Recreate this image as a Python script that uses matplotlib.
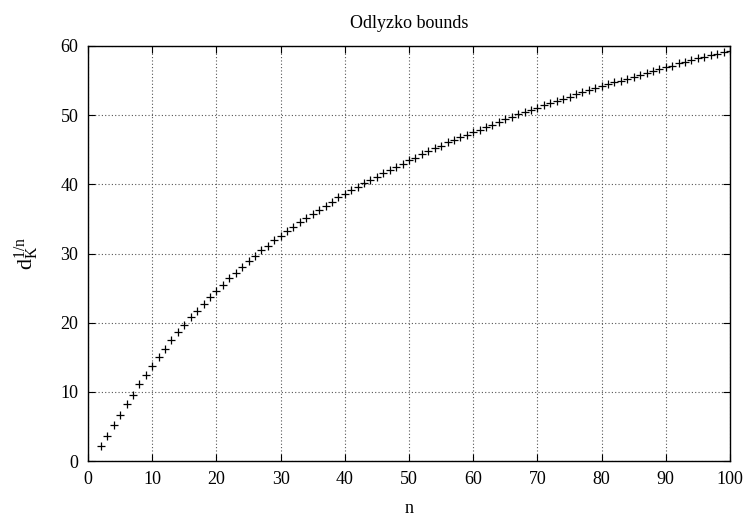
import matplotlib
matplotlib.use("Agg")
import matplotlib.pyplot as plt
import numpy as np

# discriminant root bound d_K^(1/n) for each degree n
n = list(range(2, 101))
bound = [
    2.2, 3.66, 5.15, 6.65, 8.2, 9.6, 11.1, 12.4, 13.8,                 # 2-10
    15.0, 16.2, 17.5, 18.6, 19.7, 20.8, 21.7, 22.75, 23.75, 24.6,      # 11-20
    25.5, 26.45, 27.2, 28.0, 28.9, 29.7, 30.5, 31.15, 31.9, 32.6,      # 21-30
    33.25, 33.9, 34.55, 35.1, 35.7, 36.3, 36.9, 37.45, 38.1, 38.65,    # 31-40
    39.2, 39.65, 40.15, 40.6, 41.1, 41.6, 42.1, 42.55, 43.0, 43.45,    # 41-50
    43.85, 44.35, 44.75, 45.2, 45.6, 46.05, 46.4, 46.8, 47.2, 47.56,   # 51-60
    47.9, 48.3, 48.65, 49.0, 49.4, 49.7, 50.1, 50.4, 50.75, 51.1,      # 61-70
    51.4, 51.7, 52.0, 52.35, 52.67, 53.0, 53.3, 53.6, 53.9, 54.17,     # 71-80
    54.46, 54.75, 55.0, 55.3, 55.57, 55.86, 56.1, 56.4, 56.62, 56.9,   # 81-90
    57.15, 57.5, 57.7, 57.97, 58.2, 58.42, 58.65, 58.9, 59.1, 59.3,    # 91-100
]

plt.rcParams['font.family'] = ['Liberation Serif', 'DejaVu Serif']
plt.rcParams['mathtext.fontset'] = 'custom'
plt.rcParams['mathtext.rm'] = 'Liberation Serif'
plt.rcParams['mathtext.it'] = 'Liberation Serif'

fig = plt.figure(figsize=(7.44, 5.16), dpi=100)
ax = fig.add_axes([88 / 744, 1 - 461 / 516, 642 / 744, 415 / 516])

ax.plot(n, bound, '+', color='black', markersize=6, markeredgewidth=0.9)

ax.set_xlim(0, 100)
ax.set_ylim(0, 60)
ax.set_xticks(np.arange(0, 101, 10))
ax.set_yticks(np.arange(0, 61, 10))
ax.tick_params(direction='in', top=True, right=True, length=5, width=0.8,
               labelsize=13, pad=7, colors='black')
ax.grid(True, linestyle=(0, (1, 2)), color='#555555', linewidth=0.8)
for s in ax.spines.values():
    s.set_linewidth(1.0)
    s.set_color('black')

ax.set_title('Odlyzko bounds', fontsize=13, pad=13)
ax.set_xlabel('n', fontsize=13, labelpad=9)
ax.set_ylabel(r'$\mathrm{d_K^{1/n}}$', fontsize=16, labelpad=14)

fig.savefig('out.png', dpi=100)
